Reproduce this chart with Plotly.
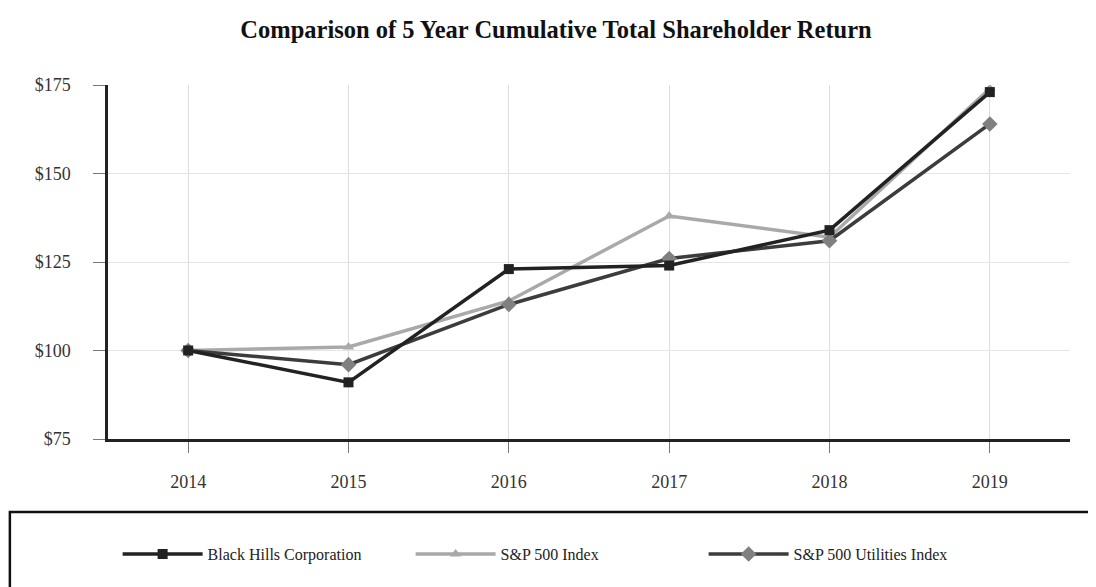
import plotly.graph_objects as go

years = [2014, 2015, 2016, 2017, 2018, 2019]
black_hills = [100, 91, 123, 124, 134, 173]
sp500 = [100, 101, 114, 138, 132, 174]
sp500_util = [100, 96, 113, 126, 131, 164]
y_ticks = [75, 100, 125, 150, 175]
y_tick_labels = ["$75", "$100", "$125", "$150", "$175"]

font_family = "Liberation Serif"

fig = go.Figure()
fig.add_trace(go.Scatter(
    x=years, y=sp500, name="S&P 500 Index", mode="lines+markers",
    line=dict(color="#a9a9a9", width=3.5),
    marker=dict(symbol="triangle-up", size=10, color="#a9a9a9"),
    legendrank=2,
))
fig.add_trace(go.Scatter(
    x=years, y=sp500_util, name="S&P 500 Utilities Index", mode="lines+markers",
    line=dict(color="#3c3c3c", width=3.5),
    marker=dict(symbol="diamond", size=12, color="#808080"),
    legendrank=3,
))
fig.add_trace(go.Scatter(
    x=years, y=black_hills, name="Black Hills Corporation", mode="lines+markers",
    line=dict(color="#222222", width=3.5),
    marker=dict(symbol="square", size=10, color="#222222"),
    legendrank=1,
))

fig.update_layout(
    width=1096, height=587,
    margin=dict(l=100, r=34, t=77, b=156),
    paper_bgcolor="white", plot_bgcolor="white",
    font=dict(family=font_family, size=18, color="#333333"),
    title=dict(text="<b>Comparison of 5 Year Cumulative Total Shareholder Return</b>",
               x=0.5, xanchor="center", y=0.964, yanchor="middle",
               font=dict(family=font_family, size=24.5, color="#111111")),
    xaxis=dict(range=[2013.5, 2019.5], tickvals=years, ticktext=[str(y) for y in years],
               showgrid=True, gridcolor="#dddddd", gridwidth=1,
               showline=True, linecolor="#222222", linewidth=2.5,
               ticks="outside", ticklen=11, tickcolor="#777777", tickwidth=1,
               ticklabelstandoff=14, zeroline=False,
               tickfont=dict(family=font_family, size=18, color="#333333")),
    yaxis=dict(range=[75, 175], tickvals=y_ticks, ticktext=y_tick_labels,
               showgrid=True, gridcolor="#e4e4e4", gridwidth=1,
               showline=True, linecolor="#222222", linewidth=2.5,
               ticks="outside", ticklen=12, tickcolor="#777777", tickwidth=1,
               ticklabelstandoff=19, zeroline=False,
               tickfont=dict(family=font_family, size=18, color="#333333")),
    legend=dict(orientation="h", x=0.010, xanchor="left", y=-0.325, yanchor="middle",
                traceorder="normal", entrywidth=198, entrywidthmode="pixels",
                font=dict(family=font_family, size=16, color="#222222"),
                bgcolor="rgba(0,0,0,0)", itemwidth=80),
    showlegend=True,
)

fig.add_shape(type="rect", xref="paper", yref="paper",
              x0=-0.102, x1=1.1, y0=-0.8, y1=-0.206,
              line=dict(color="#111111", width=2.5), fillcolor="rgba(0,0,0,0)")

fig.write_html("out.html")
